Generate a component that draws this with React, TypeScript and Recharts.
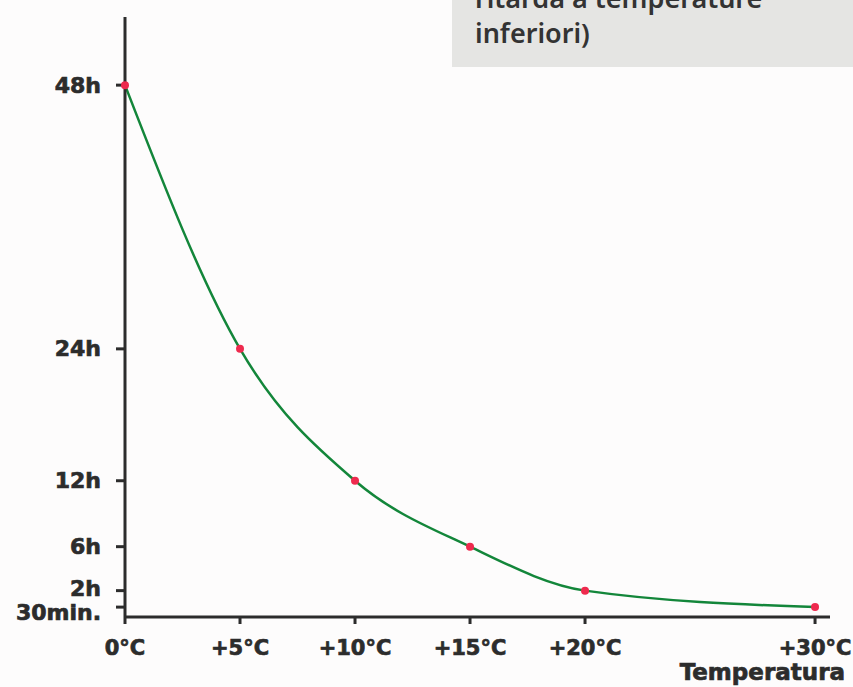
import React from "react";
import { LineChart, Line, XAxis, YAxis } from "recharts";

const temperatures = [0, 5, 10, 15, 20, 30];
const hours = [48, 24, 12, 6, 2, 0.5];
const xTickLabels = ["0°C", "+5°C", "+10°C", "+15°C", "+20°C", "+30°C"];
const yTickValues = [0.5, 2, 6, 12, 24, 48];
const yTickLabels = ["30min.", "2h", "6h", "12h", "24h", "48h"];
const noteLines = ["ritarda a temperature", "inferiori)"];
const xAxisTitle = "Temperatura";

const data = temperatures.map((t, i) => ({ t, h: hours[i] }));

const INK = "#2c2c2c";
const FONT = "'DejaVu Sans', sans-serif";
const labelStyle = { stroke: INK, strokeWidth: 0.7, paintOrder: "stroke" } as any;

const YTick = (props: any) => {
  const { x, y, payload } = props;
  const idx = yTickValues.indexOf(payload.value);
  const dy = payload.value === 0.5 ? 5 : payload.value === 2 ? -2 : 0;
  return (
    <text x={x} y={y + dy} textAnchor="end" dominantBaseline="central" fontFamily={FONT} fontWeight={700} fontSize={22} fill={INK} style={labelStyle}>
      {yTickLabels[idx]}
    </text>
  );
};

const XTick = (props: any) => {
  const { x, y, payload } = props;
  const idx = temperatures.indexOf(payload.value);
  return (
    <text x={x} y={y + 31} textAnchor="middle" fontFamily={FONT} fontWeight={700} fontSize={21} fill={INK} style={labelStyle}>
      {xTickLabels[idx]}
    </text>
  );
};

const AxisTitle = (props: any) => {
  const vb = props.viewBox;
  return (
    <text x={vb.x + vb.width + 15} y={vb.y + 63} textAnchor="end" fontFamily={FONT} fontWeight={700} fontSize={23} fill={INK} style={labelStyle}>
      {xAxisTitle}
    </text>
  );
};

export default function App() {
  return (
    <div style={{ position: "relative", width: 853, height: 687, background: "#fdfcfc", overflow: "hidden" }}>
      <style>{"body{margin:0;}"}</style>
      <LineChart width={853} height={687} data={data} margin={{ top: 17, right: 23, bottom: 0, left: 0 }}>
        <XAxis
          dataKey="t"
          type="number"
          domain={[0, 30.65]}
          ticks={temperatures}
          interval={0}
          height={70}
          tickSize={7}
          tickMargin={0}
          axisLine={{ stroke: INK, strokeWidth: 3 }}
          tickLine={{ stroke: INK, strokeWidth: 3 }}
          tick={<XTick />}
          label={<AxisTitle />}
        />
        <YAxis
          type="number"
          domain={[-0.4, 54.2]}
          ticks={yTickValues}
          interval={0}
          width={125}
          tickSize={9}
          tickMargin={15}
          axisLine={{ stroke: INK, strokeWidth: 3 }}
          tickLine={{ stroke: INK, strokeWidth: 3 }}
          tick={<YTick />}
        />
        <Line
          dataKey="h"
          type="monotone"
          stroke="#13863a"
          strokeWidth={2.5}
          dot={{ r: 4, fill: "#ee2a4e", stroke: "none" }}
          isAnimationActive={false}
        />
      </LineChart>
      <svg width={853} height={687} style={{ position: "absolute", left: 0, top: 0, pointerEvents: "none" }}>
        <rect x={452} y={0} width={401} height={67} fill="#e5e5e3" />
        <text x={475} y={8} fontFamily="'Noto Sans', sans-serif" fontWeight={600} fontSize={27} fill="#333">
          {noteLines[0]}
        </text>
        <text x={475} y={43} fontFamily="'Noto Sans', sans-serif" fontWeight={600} fontSize={27} fill="#333">
          {noteLines[1]}
        </text>
      </svg>
    </div>
  );
}
